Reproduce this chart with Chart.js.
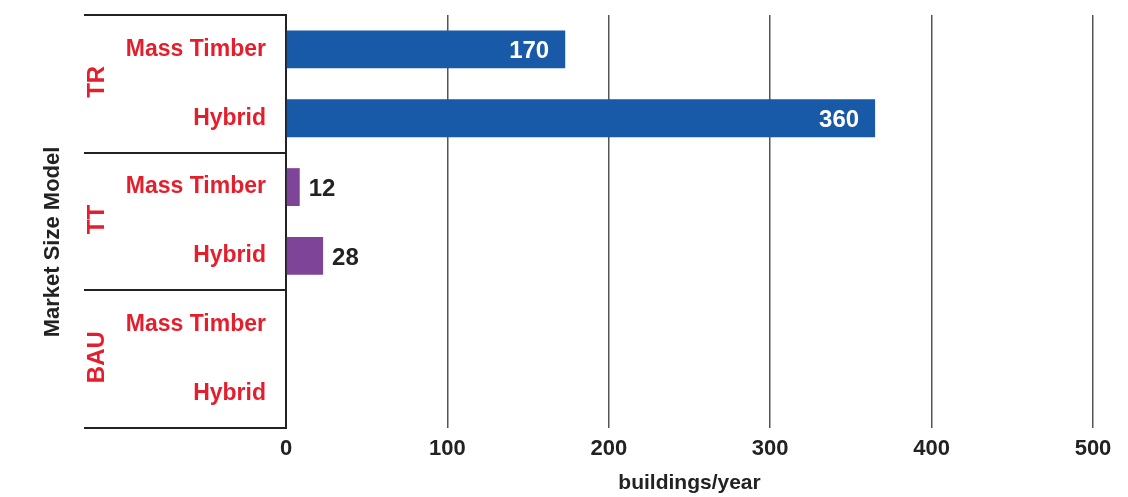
<!DOCTYPE html>
<html>
<head>
<meta charset="utf-8">
<script src="https://cdn.jsdelivr.net/npm/chart.js@4.4.1/dist/chart.umd.min.js"></script>
<style>
  html, body { margin: 0; padding: 0; background: #fff; }
  #wrap { width: 1128px; height: 497px; }
</style>
</head>
<body>
<div id="wrap"><canvas id="barChart"></canvas></div>
<script>
// rows, top to bottom
var categories = ["Mass Timber", "Hybrid", "Mass Timber", "Hybrid", "Mass Timber", "Hybrid"];
var groups = ["TR", "TT", "BAU"];          // two rows per group
var values = [173, 365, 8.5, 23, null, null]; // bar lengths as drawn
var valueLabels = ["170", "360", "12", "28", "", ""]; // numbers printed on the bars
var xTicks = [0, 100, 200, 300, 400, 500];

var blue = '#1859a8', purple = '#7d4498', red = '#e31e2d', ink = '#222222';
var fontFamily = '"Liberation Sans", Arial, sans-serif';

var groupPlugin = {
    id: 'groupPlugin',
    afterDraw: function(chart) {
        var c = chart.ctx, y = chart.scales.y, area = chart.chartArea;
        var step = y.getPixelForValue(1) - y.getPixelForValue(0);
        c.save();
        // separator lines between the groups
        c.strokeStyle = ink;
        c.lineWidth = 2;
        for (var g = 0; g <= groups.length; g++) {
            var py = y.getPixelForValue(g * 2) - step / 2;
            c.beginPath();
            c.moveTo(84, Math.round(py));
            c.lineTo(area.left, Math.round(py));
            c.stroke();
        }
        // group names, rotated
        c.fillStyle = red;
        c.font = 'bold 24px ' + fontFamily;
        c.textAlign = 'center';
        c.textBaseline = 'middle';
        groups.forEach(function(name, g) {
            var cy = (y.getPixelForValue(g * 2) + y.getPixelForValue(g * 2 + 1)) / 2 - 2;
            c.save();
            c.translate(97, cy);
            c.rotate(-Math.PI / 2);
            c.fillText(name, 0, 0);
            c.restore();
        });
        // axis title
        c.fillStyle = ink;
        c.font = 'bold 22px ' + fontFamily;
        c.save();
        c.translate(53, 242);
        c.rotate(-Math.PI / 2);
        c.fillText('Market Size Model', 0, 0);
        c.restore();
        c.restore();
    },
    afterDatasetsDraw: function(chart) {
        var c = chart.ctx, meta = chart.getDatasetMeta(0);
        c.save();
        c.font = 'bold 24px ' + fontFamily;
        c.textBaseline = 'middle';
        meta.data.forEach(function(bar, i) {
            if (values[i] == null) return;
            if (values[i] > 100) {
                c.fillStyle = '#ffffff';
                c.textAlign = 'right';
                c.fillText(valueLabels[i], bar.x - 16, bar.y + 2);
            } else {
                c.fillStyle = ink;
                c.textAlign = 'left';
                c.fillText(valueLabels[i], bar.x + 9, bar.y + 2);
            }
        });
        c.restore();
    }
};

var ctx = document.getElementById("barChart");
var myChart = new Chart(ctx, {
    type: 'bar',
    data: {
        labels: categories,
        datasets: [{
            data: values,
            backgroundColor: [blue, blue, purple, purple, purple, purple],
            categoryPercentage: 1,
            barPercentage: 0.55
        }]
    },
    options: {
        indexAxis: 'y',
        responsive: true,
        maintainAspectRatio: false,
        animation: false,
        layout: { padding: { top: 15, right: 35, left: 0, bottom: 0 } },
        plugins: {
            legend: { display: false },
            tooltip: { enabled: false }
        },
        scales: {
            x: {
                min: 0,
                max: 500,
                afterBuildTicks: function(scale) {
                    scale.ticks = xTicks.map(function(v) { return { value: v }; });
                },
                afterFit: function(scale) { scale.height = 69; },
                grid: {
                    color: function(c) { return c.tick && c.tick.value === 0 ? 'rgba(0,0,0,0)' : '#555555'; },
                    lineWidth: 1.5,
                    drawTicks: false
                },
                border: { display: false },
                ticks: {
                    color: ink,
                    padding: 8,
                    font: { family: fontFamily, size: 22, weight: 'bold' }
                },
                title: {
                    display: true,
                    text: 'buildings/year',
                    color: ink,
                    padding: 1,
                    font: { family: fontFamily, size: 21, weight: 'bold' }
                }
            },
            y: {
                afterFit: function(scale) {
                    scale.width = 286;
                    scale.paddingTop = 0;
                    scale.paddingBottom = 0;
                },
                grid: { display: false, drawTicks: false },
                border: { display: true, color: ink, width: 2 },
                ticks: {
                    color: red,
                    padding: 20,
                    font: { family: fontFamily, size: 23, weight: 'bold' }
                }
            }
        }
    },
    plugins: [groupPlugin]
});
</script>
</body>
</html>
